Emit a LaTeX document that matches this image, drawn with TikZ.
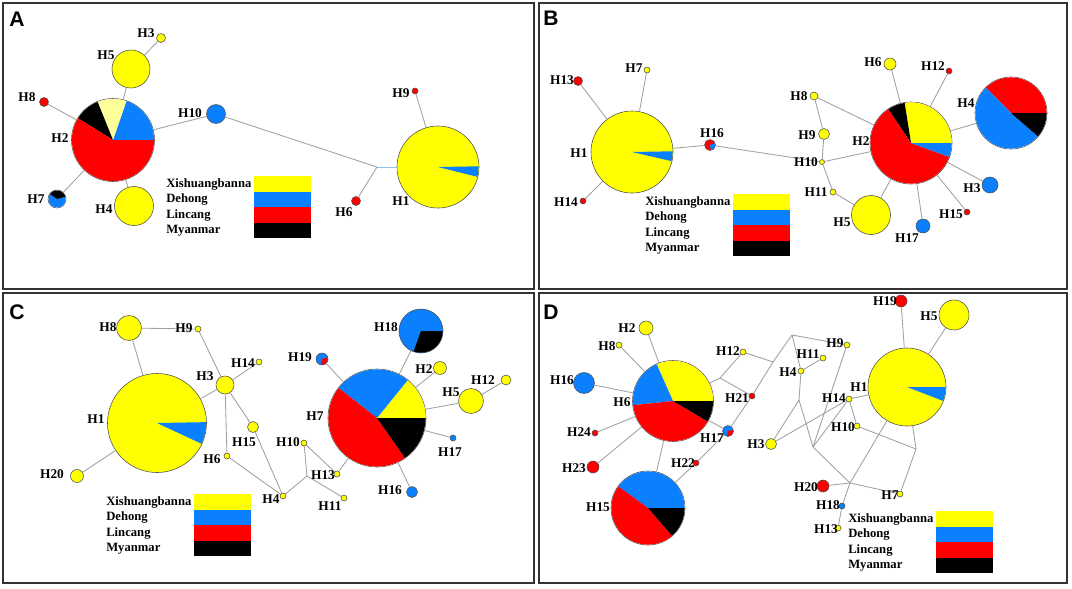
\documentclass[tikz,border=0pt]{standalone}
\usepackage{fontspec}
\setmainfont{Liberation Serif}
\newfontfamily\panelfont{Liberation Sans}

\definecolor{hy}{HTML}{FFFF00}
\definecolor{hb}{HTML}{0A80FF}
\definecolor{hr}{HTML}{FF0000}
\definecolor{hk}{HTML}{000000}
\definecolor{hpale}{HTML}{FFFF99}
\definecolor{rim}{HTML}{505050}
\definecolor{wire}{HTML}{A0A0A0}
\definecolor{wireblue}{HTML}{8CC3EE}
\definecolor{edgegray}{HTML}{333333}

% one coloured sector of a haplotype circle (radius in px)
\newcommand{\slice}[5]{%
  \pgfmathsetmacro{\slr}{#2*0.71132-0.3}%
  \fill[#5] (#1.center) -- ++(#3:\slr pt) arc[start angle=#3, end angle=#4, radius=\slr pt] -- cycle;}

% colour key: text left x, box top y, name prefix
\newcommand{\poplegend}[3]{%
  \fill[hy] (#1+87.5,#2) rectangle (#1+145,#2+15.5);
  \fill[hb] (#1+87.5,#2+15.5) rectangle (#1+145,#2+31);
  \fill[hr] (#1+87.5,#2+31) rectangle (#1+145,#2+46.5);
  \fill[hk] (#1+87.5,#2+46.5) rectangle (#1+145,#2+62);
  \node[legtext] (#3x) at (#1,#2+8) {Xishuangbanna};
  \node[legtext] (#3d) at (#1,#2+23.5) {Dehong};
  \node[legtext] (#3l) at (#1,#2+39) {Lincang};
  \node[legtext] (#3m) at (#1,#2+54.5) {Myanmar};}

\begin{document}
\begin{tikzpicture}
    [x=0.025cm, y=-0.025cm,
     hap/.style={circle, draw=rim, line width=0.4pt, inner sep=0pt, minimum size=#1*0.05cm},
     link/.style={draw=wire, line width=0.6pt},
     lab/.style={inner sep=0pt, font=\bfseries\fontsize{9.5}{10}\selectfont},
     legtext/.style={anchor=west, inner sep=0pt, font=\bfseries\fontsize{9}{10}\selectfont},
     letter/.style={inner sep=0pt, font=\panelfont\bfseries\fontsize{15}{15}\selectfont},
     panel/.style={draw=edgegray, line width=1pt}]
    \useasboundingbox (0,0) rectangle (1072,588);
    \fill[white] (0,0) rectangle (1072,588);
    \draw[panel] (3,3) rectangle (534,289);
    \draw[panel] (539,3) rectangle (1067,289);
    \draw[panel] (3,293) rectangle (534,583);
    \draw[panel] (539,293) rectangle (1067,583);

    % ---- A ----
    \node[letter] (pa) at (17,19) {A};
    \node[hap=41, fill=hy] (a1) at (438,167) {};
    \node[hap=41.5] (a2) at (113,140) {};
    \node[hap=4.5, fill=hy] (a3) at (161,38) {};
    \node[hap=19.5, fill=hy] (a4) at (134,206) {};
    \node[hap=19, fill=hy] (a5) at (131,69) {};
    \node[hap=4.5, fill=hr] (a6) at (356,201) {};
    \node[hap=9] (a7) at (57,199) {};
    \node[hap=4.5, fill=hr] (a8) at (44,102) {};
    \node[hap=3, fill=hr] (a9) at (415,91) {};
    \node[hap=9.5, fill=hb] (a10) at (216,114) {};
    \coordinate (aj) at (377,167);
    \slice{a1}{41}{-14}{1}{hb}
    \slice{a2}{41.5}{0}{71}{hb}
    \slice{a2}{41.5}{71}{112}{hpale}
    \slice{a2}{41.5}{112}{148}{hk}
    \slice{a2}{41.5}{148}{360}{hr}
    \slice{a7}{9}{145}{375}{hb}
    \slice{a7}{9}{15}{145}{hk}

    \path[link] (a2) edge (a5) edge (a8) edge (a10) edge (a7) edge (a4);
    \path[link] (a5) edge (a3);
    \path[link] (a10) edge (aj);
    \path[link] (aj) edge (a6) edge[draw=wireblue] (a1);
    \path[link] (a9) edge (a1);

    \node[lab] (ta1) at (401,201) {H1};
    \node[lab] (ta2) at (60,138) {H2};
    \node[lab] (ta3) at (146,33) {H3};
    \node[lab] (ta4) at (104,209) {H4};
    \node[lab] (ta5) at (106,55) {H5};
    \node[lab] (ta6) at (344,212) {H6};
    \node[lab] (ta7) at (36,199) {H7};
    \node[lab] (ta8) at (27,97) {H8};
    \node[lab] (ta9) at (401,93) {H9};
    \node[lab] (ta10) at (190,113) {H10};
    \poplegend{166}{176}{ka}

    % ---- B ----
    \node[letter] (pb) at (551,18) {B};
    \node[hap=41, fill=hy] (b1) at (632,152) {};
    \node[hap=41] (b2) at (911,143) {};
    \node[hap=8, fill=hb] (b3) at (990,185) {};
    \node[hap=36] (b4) at (1011,113) {};
    \node[hap=19.5, fill=hy] (b5) at (871,215) {};
    \node[hap=6, fill=hy] (b6) at (890,64) {};
    \node[hap=3, fill=hy] (b7) at (647,70) {};
    \node[hap=4, fill=hy] (b8) at (814,96) {};
    \node[hap=5.5, fill=hy] (b9) at (824,134) {};
    \node[hap=2.5, fill=hy] (b10) at (822,162) {};
    \node[hap=3, fill=hy] (b11) at (833,192) {};
    \node[hap=3, fill=hr] (b12) at (949,71) {};
    \node[hap=4.5, fill=hr] (b13) at (578,81) {};
    \node[hap=3, fill=hr] (b14) at (583,201) {};
    \node[hap=3, fill=hr] (b15) at (967,212) {};
    \node[hap=5.5, fill=hr] (b16) at (710,145) {};
    \node[hap=7, fill=hb] (b17) at (923,226) {};
    \slice{b1}{41}{-13}{1}{hb}
    \slice{b2}{41}{0}{99}{hy}
    \slice{b2}{41}{99}{124}{hk}
    \slice{b2}{41}{124}{340}{hr}
    \slice{b2}{41}{340}{360}{hb}
    \slice{b4}{36}{0}{135}{hr}
    \slice{b4}{36}{135}{319}{hb}
    \slice{b4}{36}{319}{360}{hk}
    \slice{b16}{5.5}{-80}{20}{hb}

    \path[link] (b1) edge (b13) edge (b7) edge (b14) edge (b16);
    \path[link] (b16) edge (b10);
    \path[link] (b8) edge (b9) edge (b2);
    \path[link] (b9) edge (b10);
    \path[link] (b10) edge (b11) edge (b2);
    \path[link] (b11) edge (b5);
    \path[link] (b2) edge (b5) edge (b6) edge (b12) edge (b4) edge (b3) edge (b15) edge (b17);

    \node[lab] (tb1) at (579,153) {H1};
    \node[lab] (tb2) at (861,141) {H2};
    \node[lab] (tb3) at (972,188) {H3};
    \node[lab] (tb4) at (966,103) {H4};
    \node[lab] (tb5) at (842,222) {H5};
    \node[lab] (tb6) at (873,62) {H6};
    \node[lab] (tb7) at (634,68) {H7};
    \node[lab] (tb8) at (799,96) {H8};
    \node[lab] (tb9) at (807,135) {H9};
    \node[lab] (tb10) at (806,162) {H10};
    \node[lab] (tb11) at (816,192) {H11};
    \node[lab] (tb12) at (933,66) {H12};
    \node[lab] (tb13) at (562,80) {H13};
    \node[lab] (tb14) at (566,202) {H14};
    \node[lab] (tb15) at (951,214) {H15};
    \node[lab] (tb16) at (712,133) {H16};
    \node[lab] (tb17) at (907,238) {H17};
    \poplegend{645}{194}{kb}

    % ---- C ----
    \node[letter] (pc) at (17,312) {C};
    \node[hap=49.5, fill=hy] (c1) at (157,423) {};
    \node[hap=6.5, fill=hy] (c2) at (440,368) {};
    \node[hap=9, fill=hy] (c3) at (225,385) {};
    \node[hap=3, fill=hy] (c4) at (283,496) {};
    \node[hap=12.5, fill=hy] (c5) at (471,401) {};
    \node[hap=3, fill=hy] (c6) at (227,456) {};
    \node[hap=49] (c7) at (377,418) {};
    \node[hap=12.5, fill=hy] (c8) at (129,328) {};
    \node[hap=3, fill=hy] (c9) at (198,329) {};
    \node[hap=3, fill=hy] (c10) at (304,443) {};
    \node[hap=3, fill=hy] (c11) at (344,498) {};
    \node[hap=5, fill=hy] (c12) at (506,380) {};
    \node[hap=3, fill=hy] (c13) at (337,474) {};
    \node[hap=3, fill=hy] (c14) at (259,362) {};
    \node[hap=5.5, fill=hy] (c15) at (253,427) {};
    \node[hap=5.5, fill=hb] (c16) at (412,492) {};
    \node[hap=3, fill=hb] (c17) at (453,438) {};
    \node[hap=22, fill=hb] (c18) at (421,331) {};
    \node[hap=6, fill=hb] (c19) at (322,359) {};
    \node[hap=6.5, fill=hy] (c20) at (77,476) {};
    \coordinate (cj) at (307,476);
    \slice{c1}{49.5}{-25}{1}{hb}
    \slice{c7}{49}{0}{51}{hy}
    \slice{c7}{49}{51}{142}{hb}
    \slice{c7}{49}{142}{305}{hr}
    \slice{c7}{49}{305}{360}{hk}
    \slice{c18}{22}{250}{360}{hk}
    \slice{c19}{6}{-100}{15}{hr}

    \path[link] (c8) edge (c9) edge (c1);
    \path[link] (c3) edge (c9) edge (c14) edge (c1) edge (c6) edge (c15);
    \path[link] (c4) edge (c15) edge (c6) edge (cj);
    \path[link] (cj) edge (c10) edge (c11);
    \path[link] (c13) edge (c10) edge (c7);
    \path[link] (c7) edge (c19) edge (c18) edge (c2) edge (c5) edge (c17) edge (c16);
    \path[link] (c5) edge (c12);
    \path[link] (c1) edge (c20);

    \node[lab] (tc1) at (96,419) {H1};
    \node[lab] (tc2) at (424,369) {H2};
    \node[lab] (tc3) at (205,376) {H3};
    \node[lab] (tc4) at (271,499) {H4};
    \node[lab] (tc5) at (451,392) {H5};
    \node[lab] (tc6) at (212,459) {H6};
    \node[lab] (tc7) at (315,416) {H7};
    \node[lab] (tc8) at (108,327) {H8};
    \node[lab] (tc9) at (184,328) {H9};
    \node[lab] (tc10) at (288,442) {H10};
    \node[lab] (tc11) at (330,506) {H11};
    \node[lab] (tc12) at (483,380) {H12};
    \node[lab] (tc13) at (323,475) {H13};
    \node[lab] (tc14) at (243,363) {H14};
    \node[lab] (tc15) at (244,442) {H15};
    \node[lab] (tc16) at (390,490) {H16};
    \node[lab] (tc17) at (450,452) {H17};
    \node[lab] (tc18) at (386,327) {H18};
    \node[lab] (tc19) at (300,357) {H19};
    \node[lab] (tc20) at (52,474) {H20};
    \poplegend{106}{494}{kc}

    % ---- D ----
    \node[letter] (pd) at (551,312) {D};
    \node[hap=39, fill=hy] (d1) at (907,387) {};
    \node[hap=7, fill=hy] (d2) at (646,328) {};
    \node[hap=5.5, fill=hy] (d3) at (771,444) {};
    \node[hap=3, fill=hy] (d4) at (801,371) {};
    \node[hap=15, fill=hy] (d5) at (954,315) {};
    \node[hap=40.5] (d6) at (673,401) {};
    \node[hap=3, fill=hy] (d7) at (900,494) {};
    \node[hap=3, fill=hy] (d8) at (619,345) {};
    \node[hap=3, fill=hy] (d9) at (847,345) {};
    \node[hap=3, fill=hy] (d10) at (857,426) {};
    \node[hap=3, fill=hy] (d11) at (823,358) {};
    \node[hap=3, fill=hy] (d12) at (743,352) {};
    \node[hap=3, fill=hy] (d13) at (838,528) {};
    \node[hap=3, fill=hy] (d14) at (849,399) {};
    \node[hap=37] (d15) at (648,508) {};
    \node[hap=10.5, fill=hb] (d16) at (584,383) {};
    \node[hap=5.5, fill=hb] (d17) at (728,431) {};
    \node[hap=3, fill=hb] (d18) at (842,506) {};
    \node[hap=6, fill=hr] (d19) at (901,301) {};
    \node[hap=6, fill=hr] (d20) at (823,486) {};
    \node[hap=3, fill=hr] (d21) at (752,396) {};
    \node[hap=3, fill=hr] (d22) at (696,463) {};
    \node[hap=6, fill=hr] (d23) at (593,467) {};
    \node[hap=3, fill=hr] (d24) at (595,433) {};
    \coordinate (dp1) at (792,335);
    \coordinate (dp2) at (773,362);
    \coordinate (dp3) at (799,400);
    \coordinate (dp4) at (813,447);
    \coordinate (dp5) at (850,483);
    \coordinate (dp6) at (916,449);
    \coordinate (dq) at (720,378);
    \slice{d1}{39}{-21}{0}{hb}
    \slice{d6}{40.5}{0}{114}{hy}
    \slice{d6}{40.5}{114}{186}{hb}
    \slice{d6}{40.5}{186}{329.5}{hr}
    \slice{d6}{40.5}{329.5}{360}{hk}
    \slice{d15}{37}{0}{144}{hb}
    \slice{d15}{37}{144}{311}{hr}
    \slice{d15}{37}{311}{360}{hk}
    \slice{d17}{5.5}{-100}{10}{hr}

    \path[link] (d6) edge (d2) edge (d8) edge (d16) edge (d24) edge (d23) edge (d15) edge (d17) edge (dq);
    \path[link] (dq) edge (d12) edge (d21);
    \path[link] (dp2) edge (d12) edge (dp1) edge (d21);
    \path[link] (d17) edge (d21) edge (d22);
    \path[link] (d22) edge (d15);
    \path[link] (dp1) edge (d9) edge (d4);
    \path[link] (d4) edge (d11) edge (dp3);
    \path[link] (dp3) edge (d3) edge (dp4);
    \path[link] (d14) edge (d3) edge (dp4) edge (d1) edge (d10);
    \path[link] (dp4) edge (d9) edge (dp5);
    \path[link] (dp6) edge (d10) edge (d1) edge (d7);
    \path[link] (dp5) edge (d7) edge (d20) edge (d1) edge (d18);
    \path[link] (d18) edge (d13);
    \path[link] (d1) edge (d19) edge (d5);

    \node[lab] (td1) at (859,387) {H1};
    \node[lab] (td2) at (627,328) {H2};
    \node[lab] (td3) at (756,444) {H3};
    \node[lab] (td4) at (788,372) {H4};
    \node[lab] (td5) at (929,316) {H5};
    \node[lab] (td6) at (622,402) {H6};
    \node[lab] (td7) at (890,495) {H7};
    \node[lab] (td8) at (607,346) {H8};
    \node[lab] (td9) at (835,343) {H9};
    \node[lab] (td10) at (843,427) {H10};
    \node[lab] (td11) at (808,354) {H11};
    \node[lab] (td12) at (728,351) {H12};
    \node[lab] (td13) at (826,529) {H13};
    \node[lab] (td14) at (834,398) {H14};
    \node[lab] (td15) at (598,507) {H15};
    \node[lab] (td16) at (562,380) {H16};
    \node[lab] (td17) at (712,438) {H17};
    \node[lab] (td18) at (828,505) {H18};
    \node[lab] (td19) at (885,301) {H19};
    \node[lab] (td20) at (806,487) {H20};
    \node[lab] (td21) at (737,398) {H21};
    \node[lab] (td22) at (683,463) {H22};
    \node[lab] (td23) at (574,468) {H23};
    \node[lab] (td24) at (579,432) {H24};
    \poplegend{848}{511}{kd}
\end{tikzpicture}
\end{document}
